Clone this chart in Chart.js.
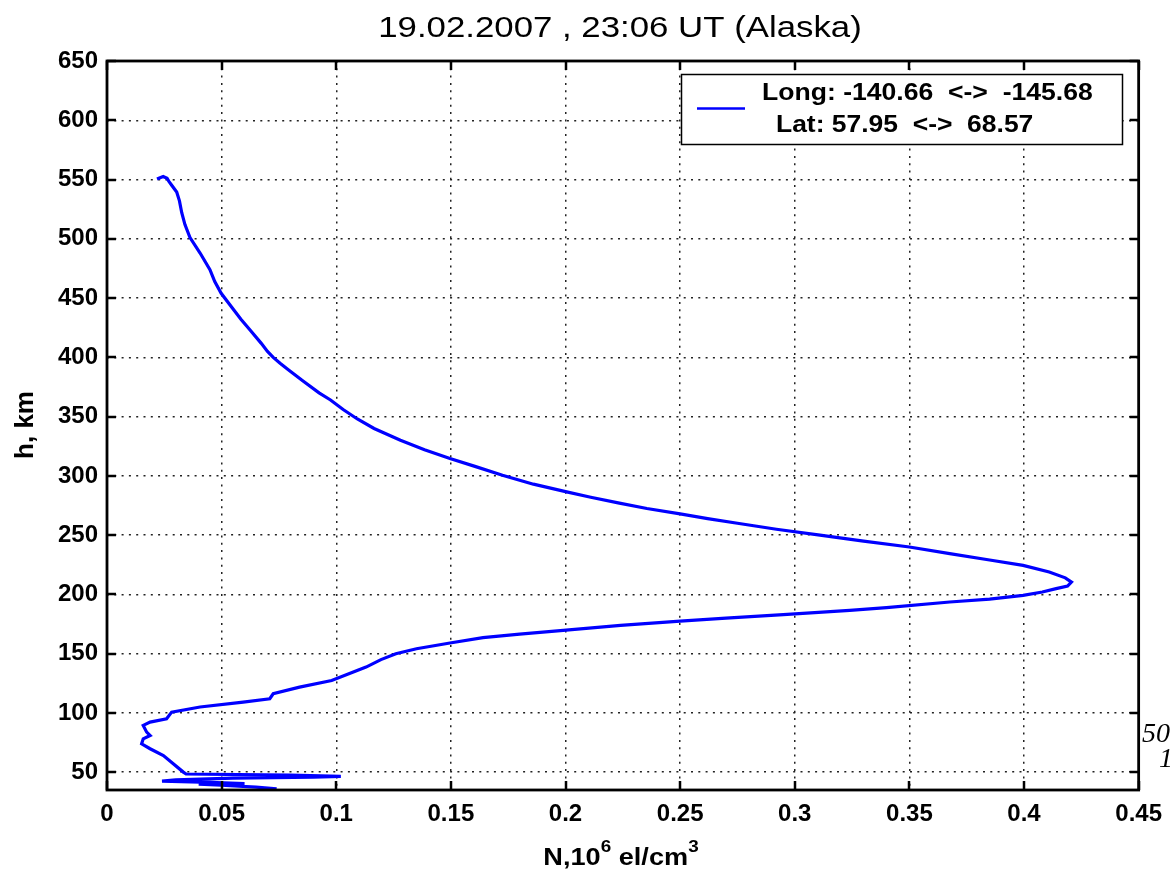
<!DOCTYPE html>
<html>
<head>
<meta charset="utf-8">
<title>19.02.2007 , 23:06 UT (Alaska)</title>
<script src="https://cdn.jsdelivr.net/npm/chart.js@4.4.1/dist/chart.umd.min.js"></script>
<style>
  html, body { margin: 0; padding: 0; background: #fff; }
  #wrap { width: 1172px; height: 877px; position: relative; }
</style>
</head>
<body>
<div id="wrap"><canvas id="profile"></canvas></div>
<script>
// altitude (km) and electron density (10^6 el/cm^3), top to bottom
const hValues = [
  550.5, 552.5, 551, 548.5, 545, 539.5, 532, 522, 512, 501,
  488, 474, 464, 454, 442, 432, 423, 412, 405, 400,
  395, 390, 380, 370, 364, 356, 348, 340, 330, 322,
  314.6, 308, 300.5, 293, 286.5, 282, 277, 272.5, 268, 264,
  260, 255, 250, 245, 240, 234.4, 229, 224.5, 218.9, 214,
  210.4, 207, 204.9, 202, 199.2, 196, 193.6, 188.8, 186.5, 183,
  180, 177.5, 173.9, 169.7, 166.5, 163.5, 159, 154.2, 150, 145,
  138.7, 133, 127.4, 121.8, 116.2, 112, 109.2, 105, 100.7, 95.1,
  92.3, 89.5, 83.8, 81, 78.2, 74, 69.8, 64.1, 57.1, 50.1,
  48.5, 47.5, 46.5, 45.8, 45, 43.5, 42.5, 41.5, 40.5, 40,
  39, 37.5, 36
];
const nValues = [
  0.0218, 0.0245, 0.0262, 0.0270, 0.0283, 0.0304, 0.0316, 0.0326, 0.0340, 0.0362,
  0.0406, 0.0449, 0.0470, 0.0498, 0.0545, 0.0585, 0.0624, 0.0672, 0.0700, 0.0725,
  0.0755, 0.0788, 0.0855, 0.0925, 0.0975, 0.1030, 0.1092, 0.1165, 0.1280, 0.1385,
  0.1496, 0.1605, 0.1725, 0.1860, 0.2005, 0.2110, 0.2235, 0.2355, 0.2500, 0.2620,
  0.2750, 0.2920, 0.3110, 0.3300, 0.3500, 0.3676, 0.3850, 0.3996, 0.4110, 0.4180,
  0.4207, 0.4190, 0.4140, 0.4080, 0.3996, 0.3850, 0.3676, 0.3400, 0.3240, 0.2950,
  0.2700, 0.2500, 0.2240, 0.1990, 0.1800, 0.1640, 0.1496, 0.1350, 0.1260, 0.1195,
  0.1130, 0.1055, 0.0980, 0.0840, 0.0725, 0.0710, 0.0594, 0.0406, 0.0282, 0.0260,
  0.0188, 0.0158, 0.0173, 0.0188, 0.0158, 0.0151, 0.0188, 0.0246, 0.0289, 0.0333,
  0.0345, 0.0800, 0.1020, 0.0900, 0.0550, 0.0300, 0.0240, 0.0450, 0.0600, 0.0400,
  0.0500, 0.0650, 0.0740
];

const xTicks = [0, 0.05, 0.1, 0.15, 0.2, 0.25, 0.3, 0.35, 0.4, 0.45];
const xTickLabels = ['0', '0.05', '0.1', '0.15', '0.2', '0.25', '0.3', '0.35', '0.4', '0.45'];
const yTicks = [50, 100, 150, 200, 250, 300, 350, 400, 450, 500, 550, 600, 650];
const yTickLabels = ['50', '100', '150', '200', '250', '300', '350', '400', '450', '500', '550', '600', '650'];

const titleText = '19.02.2007 , 23:06 UT (Alaska)';
const legendLines = ['Long: -140.66  <->  -145.68', 'Lat: 57.95  <->  68.57'];

const BLUE = '#0000ff';
const FONT = '"Liberation Sans", Arial, sans-serif';

// text stretched sideways a little, like the original figure
function wideText(ctx, text, x, y, sx) {
  ctx.save();
  ctx.translate(x, y);
  ctx.scale(sx, 1);
  ctx.fillText(text, 0, 0);
  ctx.restore();
}

// frame, inward ticks, titles, legend and the stray text at the right edge
const decorations = {
  id: 'decorations',
  afterDraw(chart) {
    const { ctx, chartArea: a, scales: { x, y } } = chart;
    ctx.save();

    // inward tick marks on all four sides
    ctx.strokeStyle = '#000';
    ctx.lineWidth = 2.5;
    ctx.beginPath();
    xTicks.forEach(v => {
      const px = Math.round(x.getPixelForValue(v));
      ctx.moveTo(px, a.bottom); ctx.lineTo(px, a.bottom - 9);
      ctx.moveTo(px, a.top); ctx.lineTo(px, a.top + 9);
    });
    yTicks.forEach(v => {
      const py = Math.round(y.getPixelForValue(v));
      ctx.moveTo(a.left, py); ctx.lineTo(a.left + 9, py);
      ctx.moveTo(a.right, py); ctx.lineTo(a.right - 9, py);
    });
    ctx.stroke();

    // frame
    ctx.lineWidth = 2.8;
    ctx.strokeRect(a.left, a.top, a.right - a.left, a.bottom - a.top);

    // title
    ctx.fillStyle = '#000';
    ctx.textAlign = 'center';
    ctx.textBaseline = 'middle';
    ctx.font = '29px ' + FONT;
    wideText(ctx, titleText, 620, 29, 1.2);

    // x axis title with superscripts
    ctx.textAlign = 'left';
    ctx.textBaseline = 'alphabetic';
    const sx = 1.18;
    const parts = [['N,10', false], ['6', true], [' el/cm', false], ['3', true]];
    let total = 0;
    parts.forEach(([t, sup]) => {
      ctx.font = (sup ? 'bold 16px ' : 'bold 23px ') + FONT;
      total += ctx.measureText(t).width * sx;
    });
    let cx = 621 - total / 2;
    parts.forEach(([t, sup]) => {
      ctx.font = (sup ? 'bold 16px ' : 'bold 23px ') + FONT;
      wideText(ctx, t, cx, sup ? 852 : 865, sx);
      cx += ctx.measureText(t).width * sx;
    });

    // y axis title
    ctx.save();
    ctx.translate(26, 425);
    ctx.rotate(-Math.PI / 2);
    ctx.textAlign = 'center';
    ctx.textBaseline = 'middle';
    ctx.font = 'bold 26px ' + FONT;
    ctx.fillText('h, km', 0, 0);
    ctx.restore();

    // legend box
    ctx.fillStyle = '#fff';
    ctx.fillRect(681, 74, 442, 71);
    ctx.strokeStyle = '#000';
    ctx.lineWidth = 1.5;
    ctx.strokeRect(681.5, 74.5, 441, 70);
    ctx.strokeStyle = BLUE;
    ctx.lineWidth = 2.5;
    ctx.beginPath();
    ctx.moveTo(697, 108.5); ctx.lineTo(745, 108.5);
    ctx.stroke();
    ctx.fillStyle = '#000';
    ctx.font = 'bold 23px ' + FONT;
    ctx.textAlign = 'left';
    ctx.textBaseline = 'middle';
    wideText(ctx, legendLines[0], 762, 94, 1.155);
    wideText(ctx, legendLines[1], 776, 126, 1.15);

    // clipped italic text at the right edge
    ctx.font = 'italic 28px "Liberation Serif", "DejaVu Serif", serif';
    ctx.textBaseline = 'alphabetic';
    ctx.fillText('50', 1142, 742);
    ctx.fillText('1', 1159, 767);

    ctx.restore();
  }
};

new Chart(document.getElementById('profile'), {
  type: 'scatter',
  data: {
    datasets: [{
      label: 'profile',
      data: nValues.map((n, i) => ({ x: n, y: hValues[i] })),
      showLine: true,
      borderColor: BLUE,
      backgroundColor: BLUE,
      borderWidth: 3.2,
      pointRadius: 0,
      tension: 0
    }]
  },
  options: {
    responsive: true,
    maintainAspectRatio: false,
    animation: false,
    layout: { padding: { top: 61, right: 33, bottom: 0, left: 0 } },
    plugins: {
      legend: { display: false },
      tooltip: { enabled: false }
    },
    scales: {
      x: {
        type: 'linear',
        min: 0,
        max: 0.45,
        afterBuildTicks: s => { s.ticks = xTicks.map(v => ({ value: v })); },
        afterFit: s => { s.height = 87; },
        ticks: {
          callback: (v, i) => xTickLabels[i],
          color: '#000',
          font: { family: FONT, size: 24, weight: 'bold' },
          padding: 10,
          maxRotation: 0
        },
        grid: { color: '#222', lineWidth: 1.5, drawTicks: false },
        border: { display: false, dash: [2, 5.3] }
      },
      y: {
        type: 'linear',
        min: 35,
        max: 650,
        afterBuildTicks: s => { s.ticks = yTicks.map(v => ({ value: v })); },
        afterFit: s => { s.width = 107; },
        ticks: {
          callback: (v, i) => yTickLabels[i],
          color: '#000',
          font: { family: FONT, size: 24, weight: 'bold' },
          padding: 9
        },
        grid: { color: '#222', lineWidth: 1.5, drawTicks: false },
        border: { display: false, dash: [2, 5.3] }
      }
    }
  },
  plugins: [decorations]
});
</script>
</body>
</html>
